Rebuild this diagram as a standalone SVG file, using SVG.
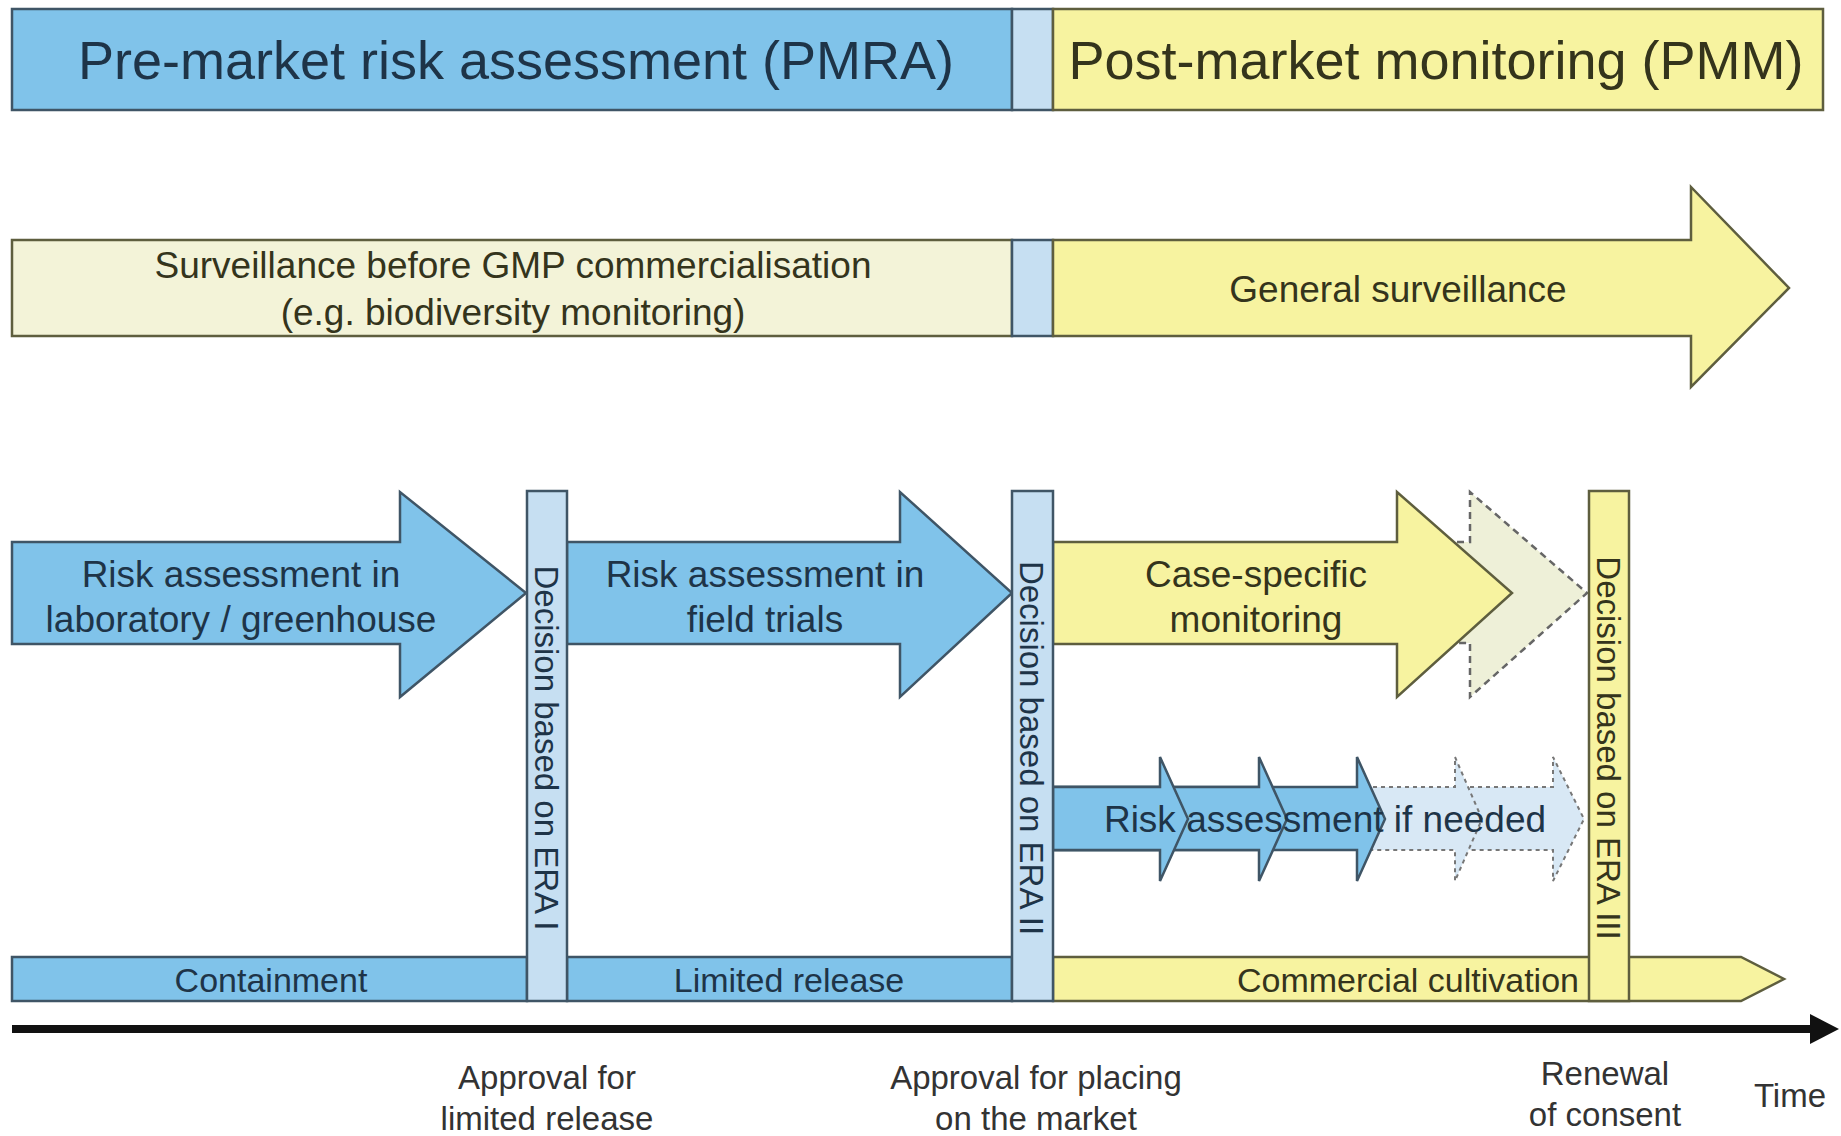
<svg xmlns="http://www.w3.org/2000/svg" width="1841" height="1136" viewBox="0 0 1841 1136">
<style>
text{font-family:"Liberation Sans",Arial,sans-serif;}
.blue{fill:#80c3ea;stroke:#3f5566;stroke-width:2.5;}
.pale{fill:#c6dff2;stroke:#3f5566;stroke-width:2.5;}
.yel{fill:#f7f3a0;stroke:#5e5e3e;stroke-width:2.5;}
.pyel{fill:#f3f3d8;stroke:#5e5e3e;stroke-width:2.5;}
.ghosty{fill:#eef0d8;stroke:#666;stroke-width:2.5;stroke-dasharray:7 5;}
.ghostb{fill:#d8e8f5;stroke:#777;stroke-width:2;stroke-dasharray:4 4;}
.tb{fill:#1e3448;}
.ty{fill:#34341c;}
.tl{fill:#333;font-size:33px;text-anchor:middle;}
.t37{font-size:37px;text-anchor:middle;}
.t34{font-size:34px;text-anchor:middle;}
.rot{font-size:33px;text-anchor:middle;}
</style>
<rect width="1841" height="1136" fill="#ffffff"/>

<g id="header-pmra">
<rect class="blue" x="12" y="9" width="1000" height="101"/>
<text class="tb" x="516" y="79" font-size="54" text-anchor="middle">Pre-market risk assessment (PMRA)</text>
</g>
<g id="header-gap"><rect class="pale" x="1012" y="9" width="41" height="101"/></g>
<g id="header-pmm">
<rect class="yel" x="1053" y="9" width="770" height="101"/>
<text class="ty" x="1436" y="79" font-size="54" text-anchor="middle">Post-market monitoring (PMM)</text>
</g>

<g id="surveillance-before">
<rect class="pyel" x="12" y="240" width="1000" height="96"/>
<text class="ty t37" x="513" y="278">Surveillance before GMP commercialisation</text>
<text class="ty t37" x="513" y="325">(e.g. biodiversity monitoring)</text>
</g>
<g id="surveillance-gap"><rect class="pale" x="1012" y="240" width="41" height="96"/></g>
<g id="general-surveillance">
<polygon class="yel" points="1053,240 1691,240 1691,187 1789,288 1691,387 1691,336 1053,336"/>
<text class="ty t37" x="1398" y="302">General surveillance</text>
</g>

<g id="containment">
<rect class="blue" x="12" y="957" width="515" height="44"/>
<text class="tb t34" x="271" y="992">Containment</text>
</g>
<g id="limited-release">
<rect class="blue" x="567" y="957" width="445" height="44"/>
<text class="tb t34" x="789" y="992">Limited release</text>
</g>
<g id="commercial-cultivation">
<polygon class="yel" points="1053,957 1741,957 1784,979 1741,1001 1053,1001"/>
<text class="ty t34" x="1408" y="992">Commercial cultivation</text>
</g>

<g id="ra-lab">
<polygon class="blue" points="12,542 400,542 400,492 526,593 400,697 400,644 12,644"/>
<text class="tb t37" x="241" y="587">Risk assessment in</text>
<text class="tb t37" x="241" y="632">laboratory / greenhouse</text>
</g>
<g id="ra-field">
<polygon class="blue" points="567,542 900,542 900,492 1012,593 900,697 900,644 567,644"/>
<text class="tb t37" x="765" y="587">Risk assessment in</text>
<text class="tb t37" x="765" y="632">field trials</text>
</g>
<g id="case-specific">
<polygon class="ghosty" points="1397,542 1470,542 1470,492 1587,593 1470,697 1470,643 1397,643"/>
<polygon class="yel" points="1053,542 1397,542 1397,492 1512,593 1397,697 1397,644 1053,644"/>
<text class="ty t37" x="1256" y="587">Case-specific</text>
<text class="ty t37" x="1256" y="632">monitoring</text>
</g>

<g id="ra-if-needed">
<polygon class="ghostb" points="1454,787 1553,787 1553,757 1584,819 1553,881 1553,850 1454,850"/>
<polygon class="ghostb" points="1357,787 1455,787 1455,757 1482,819 1455,881 1455,850 1357,850"/>
<polygon class="blue" points="1053,787 1357,787 1357,757 1385,819 1357,881 1357,850 1053,850"/>
<polygon class="blue" points="1053,787 1259,787 1259,757 1287,819 1259,881 1259,850 1053,850"/>
<polygon class="blue" points="1053,787 1160,787 1160,757 1188,819 1160,881 1160,850 1053,850"/>
<text class="tb" x="1325" y="832" font-size="37" text-anchor="middle">Risk assessment if needed</text>
</g>

<g id="decision-era1">
<rect class="pale" x="527" y="491" width="40" height="510"/>
<text class="tb rot" transform="translate(547,748) rotate(90)" x="0" y="12">Decision based on ERA I</text>
</g>
<g id="decision-era2">
<rect class="pale" x="1012" y="491" width="41" height="510"/>
<text class="tb rot" transform="translate(1032,748) rotate(90)" x="0" y="12">Decision based on ERA II</text>
</g>
<g id="decision-era3">
<rect class="yel" x="1589" y="491" width="40" height="510"/>
<text class="ty rot" transform="translate(1609,748) rotate(90)" x="0" y="12">Decision based on ERA III</text>
</g>

<g id="connectors">
<line x1="12" y1="1029" x2="1815" y2="1029" stroke="#111" stroke-width="8"/>
<polygon points="1810,1014 1839,1029 1810,1044" fill="#111"/>
</g>

<g id="timeline-labels">
<text class="tl" x="547" y="1089">Approval for</text>
<text class="tl" x="547" y="1130">limited release</text>
<text class="tl" x="1036" y="1089">Approval for placing</text>
<text class="tl" x="1036" y="1130">on the market</text>
<text class="tl" x="1605" y="1085">Renewal</text>
<text class="tl" x="1605" y="1126">of consent</text>
<text class="tl" x="1790" y="1107">Time</text>
</g>
</svg>
